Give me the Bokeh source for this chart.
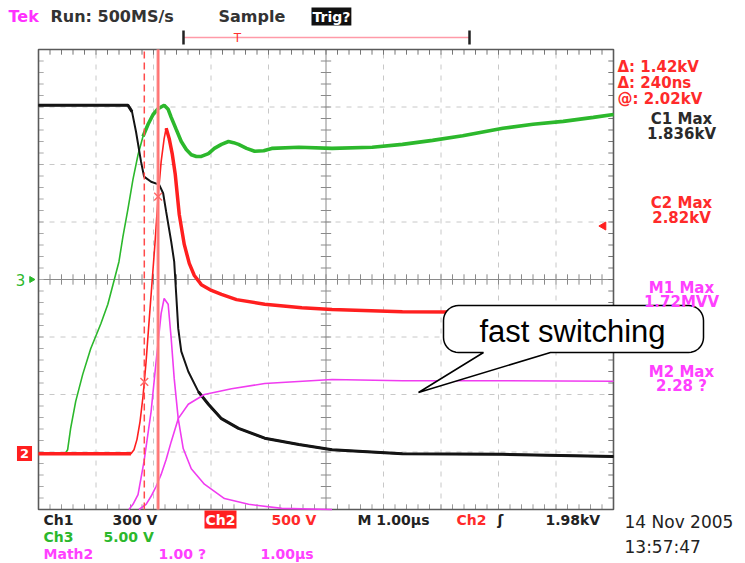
import numpy as np
from bokeh.plotting import figure
from bokeh.models import Range1d, Label
from bokeh.embed import file_html
from bokeh.resources import INLINE

# ---------------- data (time in µs, 1 µs/div; level in divisions, 0 = screen bottom)
ch1_t = [0.00, 1.556, 1.626, 1.696, 1.783, 1.836, 1.958, 2.098, 2.168, 2.220, 2.308, 2.360, 2.395,
         2.430, 2.483, 2.605, 2.780, 2.955, 3.182, 3.479, 3.934, 4.528, 5.105, 6.329, 8.077, 10.0]
ch1_v = [7.03, 7.03, 6.92, 6.57, 6.05, 5.79, 5.70, 5.65, 5.50, 5.18, 4.66, 4.31, 3.74,
         3.15, 2.75, 2.40, 2.05, 1.83, 1.58, 1.41, 1.24, 1.13, 1.04, 0.97, 0.96, 0.92]

ch3_t = [0.000, 0.455, 0.507, 0.559, 0.647, 0.769, 0.909, 1.084, 1.206, 1.311, 1.399, 1.469, 1.556,
         1.643, 1.731, 1.818, 1.906, 1.993, 2.080, 2.185, 2.255, 2.308, 2.395, 2.483, 2.570, 2.657,
         2.745, 2.832, 2.955, 3.059, 3.182, 3.304, 3.392, 3.479, 3.619, 3.759, 3.916, 4.056, 4.528,
         5.105, 5.804, 6.329, 6.853, 7.378, 8.077, 8.601, 9.126, 9.650, 10.000]
ch3_v = [0.97, 0.96, 1.04, 1.41, 1.88, 2.35, 2.80, 3.23, 3.57, 3.97, 4.31, 4.75, 5.23,
         5.74, 6.17, 6.49, 6.70, 6.87, 6.97, 7.03, 6.96, 6.82, 6.61, 6.40, 6.26, 6.17,
         6.14, 6.14, 6.19, 6.28, 6.35, 6.40, 6.38, 6.35, 6.28, 6.23, 6.24, 6.28, 6.30,
         6.28, 6.30, 6.35, 6.42, 6.50, 6.63, 6.70, 6.75, 6.82, 6.87]

ch2_t = [0, 1.608, 1.661, 1.713, 1.766, 1.818, 1.871, 1.923, 1.976, 2.028, 2.080, 2.133, 2.185,
         2.220, 2.273, 2.325, 2.378, 2.448, 2.535, 2.622, 2.710, 2.832, 3.007, 3.182, 3.444,
         3.934, 4.580, 5.105, 6.329, 8.077, 10.0]
ch2_v = [0.97, 0.97, 1.04, 1.22, 1.53, 1.97, 2.57, 3.27, 3.97, 4.66, 5.44, 6.05, 6.45,
         6.63, 6.45, 6.19, 5.83, 5.13, 4.61, 4.28, 4.07, 3.91, 3.81, 3.74, 3.65,
         3.57, 3.51, 3.48, 3.44, 3.43, 3.41]

m1_t = [1.573, 1.643, 1.731, 1.836, 1.958, 2.045, 2.133, 2.185, 2.255, 2.308, 2.360, 2.430,
        2.517, 2.657, 2.885, 3.234, 3.654, 4.231, 5.105]
m1_v = [0.0, 0.09, 0.26, 0.84, 1.70, 2.57, 3.41, 3.67, 3.57, 2.97, 2.28, 1.58,
        1.06, 0.71, 0.44, 0.19, 0.09, 0.02, 0.0]

m2_t = [1.748, 1.871, 1.958, 2.045, 2.133, 2.220, 2.308, 2.430, 2.605, 2.885, 3.357, 3.934,
        5.105, 6.329, 8.077, 10.0]
m2_v = [0.0, 0.09, 0.23, 0.40, 0.61, 0.87, 1.18, 1.58, 1.83, 2.00, 2.10, 2.19,
        2.26, 2.24, 2.24, 2.23]

cursor_a = 1.84          # µs
cursor_delta = 0.24      # µs (240 ns)
ch2_scale_kv = 0.5       # kV/div
trigger_kv = 1.98

readout_red = ["Δ: 1.42kV", "Δ: 240ns", "@: 2.02kV"]
readout_c1 = ["C1 Max", "1.836kV"]
readout_c2 = ["C2 Max", "2.82kV"]
readout_m1 = ["M1 Max", "1.72MVV"]
readout_m2 = ["M2 Max", "2.28 ?"]

# ---------------- layout helpers (pixel -> screen divisions)
DIV = 57.5
LEFT_PX, BOTTOM_PX = 38.0, 509.0


def X(px):
    return (px - LEFT_PX) / DIV


def Y(py):
    return (BOTTOM_PX - py) / DIV


W, H = 745, 563
p = figure(width=W, height=H, x_range=Range1d(X(0), X(W)), y_range=Range1d(Y(H), Y(0)),
           x_axis_type=None, y_axis_type=None, min_border=0,
           output_backend="svg", toolbar_location=None)
p.outline_line_color = None
p.background_fill_color = "white"
p.border_fill_color = "white"

# ---------------- graticule
GRID = "#c8c8c8"
for k in range(1, 10):
    if k != 5:
        p.line([k, k], [0, 8], line_color=GRID, line_width=1, line_dash="5 6")
for k in range(1, 8):
    if k != 4:
        p.line([0, 10], [k, k], line_color=GRID, line_width=1, line_dash="5 6")
p.line([5, 5], [0, 8], line_color="#8a8a8a", line_width=1)
p.line([0, 10], [4, 4], line_color="#8a8a8a", line_width=1)

tt = np.round(np.arange(0, 10.001, 0.2), 3)
vv = np.round(np.arange(0, 8.001, 0.2), 3)
tk = 0.09
p.segment(x0=tt, y0=4 - tk, x1=tt, y1=4 + tk, line_color="#8a8a8a", line_width=1)
p.segment(x0=5 - tk, y0=vv, x1=5 + tk, y1=vv, line_color="#8a8a8a", line_width=1)
p.segment(x0=tt, y0=8, x1=tt, y1=8 - tk, line_color="#777", line_width=1)
p.segment(x0=tt, y0=0, x1=tt, y1=tk, line_color="#999", line_width=1)
p.segment(x0=10, y0=vv, x1=10 - tk, y1=vv, line_color="#777", line_width=1)
p.segment(x0=0, y0=vv, x1=tk, y1=vv, line_color="#aaa", line_width=1)
p.quad(left=0, right=10, bottom=0, top=8, fill_color=None, line_color="#5a5a5a", line_width=1.6)

# ---------------- traces
GREEN, RED, MAG, BLACK = "#2cb82c", "#ff1f1f", "#f03cf0", "#141414"
p.line(ch3_t, ch3_v, line_color=GREEN, line_width=1.6)
p.line(ch3_t[15:], ch3_v[15:], line_color=GREEN, line_width=3.6)
p.line(ch1_t, ch1_v, line_color=BLACK, line_width=2.0)
p.line(ch1_t[:3], ch1_v[:3], line_color=BLACK, line_width=3.0)
p.line(ch1_t[16:], ch1_v[16:], line_color=BLACK, line_width=3.0)
p.line(m1_t, m1_v, line_color=MAG, line_width=1.6)
p.line(m2_t, m2_v, line_color=MAG, line_width=1.6)
p.line(ch2_t, ch2_v, line_color=RED, line_width=1.6)
p.line(ch2_t[:2], ch2_v[:2], line_color=RED, line_width=3.5)
p.line(ch2_t[13:], ch2_v[13:], line_color=RED, line_width=3.5)

# cursors
cursor_b = cursor_a + cursor_delta
p.line([cursor_a, cursor_a], [0, 8], line_color="#ff4a4a", line_width=1.5, line_dash="7 4")
p.line([cursor_b, cursor_b], [0, 8], line_color="#ff9a9a", line_width=3.2)
p.line([cursor_b, cursor_b], [0, 8], line_color="#ff5a5a", line_width=1)
cx = [cursor_a, cursor_b]
cy = list(np.interp(cx, ch2_t, ch2_v))
p.scatter(cx, cy, marker="x", size=11, line_color="#ff6a6a", line_width=1.5)

# trigger level marker (right) and channel markers (left)
trig_v = ch2_v[0] + trigger_kv / ch2_scale_kv
p.scatter([X(603)], [trig_v], marker="triangle", angle=np.pi / 2, size=8,
          fill_color=RED, line_color=RED)
p.scatter([X(31)], [4], marker="triangle", angle=-np.pi / 2, size=6,
          fill_color=GREEN, line_color=GREEN)

FONT = "DejaVu Sans"


def lab(px, py, text, color, size=14, align="left", bold=True, bg=None, font=FONT, pad=0):
    kw = {}
    if bg is not None:
        kw = dict(background_fill_color=bg, padding=pad)
    p.add_layout(Label(x=X(px), y=Y(py), text=text, text_color=color,
                       text_font=font, text_font_size=f"{size}px",
                       text_font_style="bold" if bold else "normal",
                       text_align=align, text_baseline="middle", **kw))


lab(20, 279, "3", GREEN, 15, "center", bold=False)
lab(24, 453, "2", "white", 13, "center", bg=RED, pad=3)

# top status line
lab(8, 16, "Tek", "#ff30ff", 16)
lab(50, 16, "Run: 500MS/s", "#333333", 16)
lab(218, 16, "Sample", "#333333", 16)
lab(311, 16, "Trig?", "white", 14, bg="#111111", pad=1)

# record bar
p.line([X(183), X(469)], [Y(37), Y(37)], line_color="#ff9aa8", line_width=1.5)
p.line([X(183), X(183)], [Y(30), Y(44)], line_color="#222", line_width=2.5)
p.line([X(469), X(469)], [Y(30), Y(44)], line_color="#222", line_width=2.5)
lab(237, 37, "T", "#ff3030", 12, "center", bold=False)

# right readouts
for i, s in enumerate(readout_red):
    lab(617, 66 + 16 * i, s, "#ff2a2a", 15)
for i, s in enumerate(readout_c1):
    lab(681, 118 + 15 * i, s, "#2a2a2a", 15, "center")
for i, s in enumerate(readout_c2):
    lab(681, 202 + 15 * i, s, "#ff2a2a", 15, "center")
for i, s in enumerate(readout_m1):
    lab(681, 287 + 14 * i, s, "#ff40ff", 15, "center")
for i, s in enumerate(readout_m2):
    lab(681, 371 + 14 * i, s, "#ff40ff", 15, "center")

# bottom status lines
lab(43, 519, "Ch1", "#222", 14)
lab(112, 519, "300 V", "#222", 14)
lab(204, 519, "Ch2", "white", 14, bg=RED, pad=1)
lab(271, 519, "500 V", "#ff2a2a", 14)
lab(357, 519, "M 1.00µs", "#222", 14)
lab(456, 519, "Ch2", "#ff2a2a", 14)
lab(497, 519, "ʃ", "#222", 14)
lab(545, 519, "1.98kV", "#222", 14)
lab(43, 536, "Ch3", GREEN, 14)
lab(103, 536, "5.00 V", GREEN, 14)
lab(43, 553, "Math2", "#ff40ff", 14)
lab(158, 553, "1.00 ?", "#ff40ff", 14)
lab(260, 553, "1.00µs", "#ff40ff", 14)
lab(624, 521, "14 Nov 2005", "#222", 17, bold=False)
lab(624, 546, "13:57:47", "#222", 17, bold=False)

# ---------------- callout "fast switching"
x0, x1, y0, y1, r = 443, 703, 305, 352, 15
pts = []
for cxp, cyp, a0, a1 in [(x1 - r, y0 + r, -90, 0), (x1 - r, y1 - r, 0, 90)]:
    for a in np.linspace(a0, a1, 10):
        pts.append((cxp + r * np.cos(np.radians(a)), cyp + r * np.sin(np.radians(a))))
pts += [(550, y1), (418, 392), (483, y1)]
for cxp, cyp, a0, a1 in [(x0 + r, y1 - r, 90, 180), (x0 + r, y0 + r, 180, 270)]:
    for a in np.linspace(a0, a1, 10):
        pts.append((cxp + r * np.cos(np.radians(a)), cyp + r * np.sin(np.radians(a))))
p.patch([X(a) for a, b in pts], [Y(b) for a, b in pts], fill_color="white",
        line_color="black", line_width=1.5)
p.add_layout(Label(x=X(572), y=Y(331), text="fast switching", text_color="black",
                   text_font="Liberation Sans", text_font_size="31px",
                   text_align="center", text_baseline="middle"))

open("out.html", "w").write(file_html(p, INLINE))
